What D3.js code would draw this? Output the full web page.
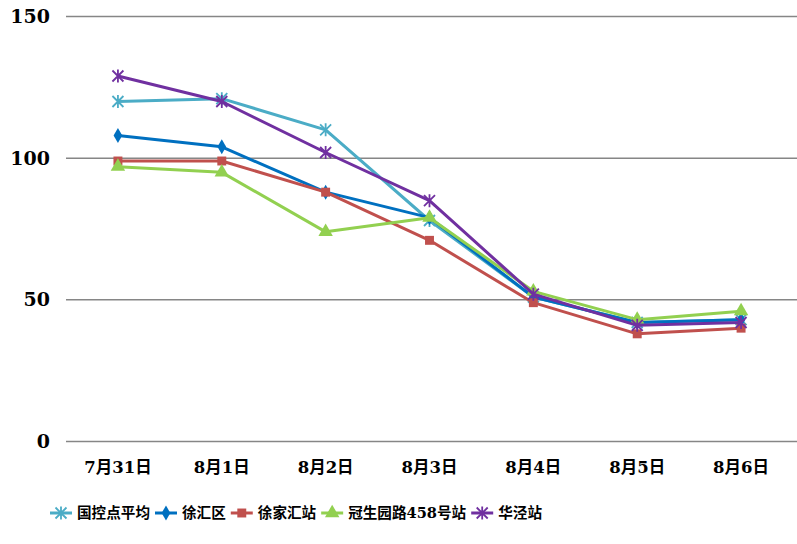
<!DOCTYPE html>
<html lang="zh">
<head>
<meta charset="utf-8">
<title>chart</title>
<script src="https://d3js.org/d3.v7.min.js"></script>
<style>
  body { margin: 0; background: #fff; }
  text { font-family: "DejaVu Serif", "Noto Sans CJK SC", serif; font-weight: bold; fill: #000; }
</style>
</head>
<body>
<svg id="chart" width="797" height="544"></svg>
<script>
const dates = ["7月31日", "8月1日", "8月2日", "8月3日", "8月4日", "8月5日", "8月6日"];
const seriesNames = ["国控点平均", "徐汇区", "徐家汇站", "冠生园路458号站", "华泾站"];
const guokong = [120, 121, 110, 78, 51, 42, 43];
const xuhui = [108, 104, 88, 79, 51, 42, 43];
const xujiahui = [99, 99, 88, 71, 49, 38, 40];
const guanshengyuan = [97, 95, 74, 79, 53, 43, 46];
const huajing = [129, 120, 102, 85, 52, 41, 42];
const yTicks = [0, 50, 100, 150];

const colors = ["#4BACC6", "#0070C0", "#C0504D", "#92D050", "#7030A0"];
const markers = ["star", "diamond", "square", "triangle", "star"];
const allValues = [guokong, xuhui, xujiahui, guanshengyuan, huajing];

const svg = d3.select("#chart");
const plotLeft = 66, plotRight = 793, plotTop = 16.5, plotBottom = 441.5;

const x = d3.scaleBand().domain(dates).range([plotLeft, plotRight]);
const y = d3.scaleLinear().domain([0, 150]).range([plotBottom, plotTop]);

// gridlines
svg.append("g").selectAll("line").data(yTicks).enter().append("line")
  .attr("x1", plotLeft).attr("x2", 797)
  .attr("y1", d => y(d)).attr("y2", d => y(d))
  .attr("stroke", "#868686").attr("stroke-width", 1.5);

svg.append("g").selectAll("text").data(yTicks).enter().append("text")
  .attr("x", 50).attr("y", d => y(d)).attr("dy", "0.35em")
  .attr("text-anchor", "end").style("font-size", "19px")
  .text(d => d);

svg.append("g").selectAll("text").data(dates).enter().append("text")
  .attr("x", d => x(d) + x.bandwidth() / 2).attr("y", 467).attr("dy", "0.35em")
  .attr("text-anchor", "middle").style("font-size", "16.5px")
  .text(d => d);

function drawMarker(g, type, color, cx, cy) {
  if (type === "star") {
    const r = 5.5;
    g.append("path")
      .attr("d", `M${cx - r},${cy - r}L${cx + r},${cy + r}M${cx - r},${cy + r}L${cx + r},${cy - r}M${cx},${cy - r - 1}L${cx},${cy + r + 1}`)
      .attr("stroke", color).attr("stroke-width", 1.8).attr("fill", "none");
  } else {
    const sym = { diamond: d3.symbolDiamond, square: d3.symbolSquare, triangle: d3.symbolTriangle }[type];
    const size = { diamond: 65, square: 80, triangle: 90 }[type];
    g.append("path").attr("d", d3.symbol().type(sym).size(size)())
      .attr("transform", `translate(${cx},${cy})`)
      .attr("fill", color);
  }
}

const line = d3.line().x((d, i) => x(dates[i]) + x.bandwidth() / 2).y(d => y(d));

allValues.forEach((vals, s) => {
  const g = svg.append("g");
  g.append("path").datum(vals).attr("d", line)
    .attr("fill", "none").attr("stroke", colors[s]).attr("stroke-width", 3)
    .attr("stroke-linejoin", "round");
  vals.forEach((v, i) => drawMarker(g, markers[s], colors[s], x(dates[i]) + x.bandwidth() / 2, y(v)));
});

// legend
const legend = svg.append("g");
let lx = 50;
const ly = 513;
seriesNames.forEach((name, s) => {
  const g = legend.append("g");
  g.append("line").attr("x1", lx).attr("x2", lx + 22).attr("y1", ly).attr("y2", ly)
    .attr("stroke", colors[s]).attr("stroke-width", 3);
  drawMarker(g, markers[s], colors[s], lx + 11, ly);
  const t = g.append("text").attr("x", lx + 27).attr("y", ly).attr("dy", "0.35em")
    .style("font-size", "14.6px").text(name);
  lx += 27 + t.node().getComputedTextLength() + 5;
});
</script>
</body>
</html>
